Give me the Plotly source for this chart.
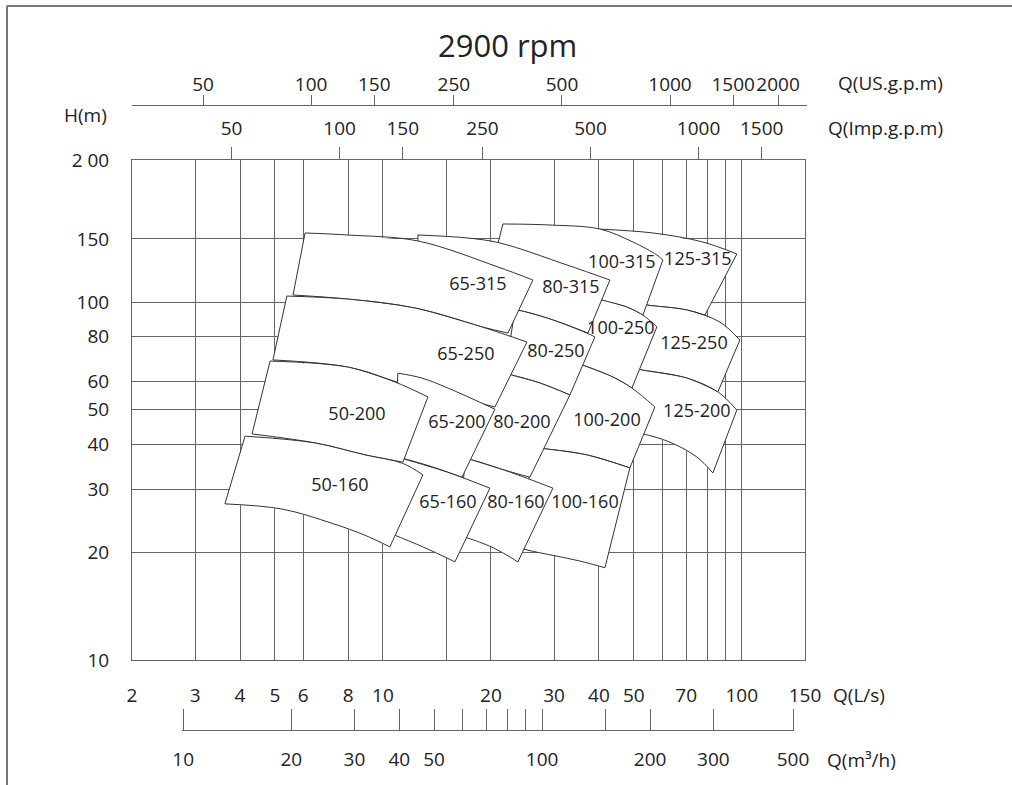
import math
import plotly.graph_objects as go

# ---------------- chart values ----------------
TITLE = "2900 rpm"

Q_MIN, Q_MAX = 2, 150            # flow axis, L/s
H_MIN, H_TOP = 10, 249.3         # head axis, m (top edge is labelled "2 00")
H_TOP_LABEL = "2 00"

LS_TICKS = [2, 3, 4, 5, 6, 8, 10, 20, 30, 40, 50, 70, 100, 150]
LS_EXTRA_GRID = [15, 60, 80, 90]
H_TICKS = [10, 20, 30, 40, 50, 60, 80, 100, 150]

M3H_TICKS = [10, 20, 30, 40, 50, 60, 70, 80, 90, 100, 150, 200, 300, 500]
M3H_LABELS = ["10", "20", "30", "40", "50", "", "", "", "", "100", "", "200", "300", "500"]
US_GPM_TICKS = [50, 100, 150, 250, 500, 1000, 1500, 2000]
IMP_GPM_TICKS = [50, 100, 150, 250, 500, 1000, 1500]

US_GPM_PER_LS = 15.85
IMP_GPM_PER_LS = 13.2
M3H_PER_LS = 3.6

# pump tiles: (Q L/s, H m) points, top edge and bottom edge from left to right
P125_315_TOP = [(39.72, 159.9), (56.54, 155.9), (77.90, 147.1), (96.87, 136.2)]
P125_315_BOT = [(44.31, 101.3), (54.40, 98.1), (70.31, 95.0), (78.90, 91.9)]
P125_315_LAB = (75.44, 130.2)

P125_250_TOP = [(52.02, 99.4), (54.40, 98.1), (70.31, 95.0), (86.88, 87.9), (98.76, 78.3)]
P125_250_BOT = [(48.77, 65.4), (52.68, 64.6), (70.31, 61.3), (85.78, 56.1)]
P125_250_LAB = (73.55, 75.9)

P125_200_TOP = [(50.36, 65.4), (52.68, 64.6), (70.31, 61.3), (85.78, 56.1), (96.87, 49.9)]
P125_200_BOT = [(47.24, 43.4), (53.02, 42.8), (63.04, 40.6), (74.97, 36.9), (83.06, 33.3)]
P125_200_LAB = (74.97, 49.0)

P100_315_TOP = [(21.60, 165.2), (29.20, 164.1), (40.24, 159.9), (49.73, 147.1), (58.00, 135.3), (60.27, 131.0)]
P100_315_BOT = [(20.52, 134.5), (40.76, 101.3), (47.84, 96.8), (53.02, 91.9)]
P100_315_LAB = (46.33, 128.5)

P100_250_TOP = [(38.97, 102.6), (40.76, 101.3), (47.84, 96.8), (53.02, 91.9), (58.00, 85.2)]
P100_250_BOT = [(34.28, 67.5), (35.85, 66.7), (43.75, 61.7), (49.41, 57.5)]
P100_250_LAB = (46.04, 83.6)

P100_200_TOP = [(34.28, 67.5), (35.85, 66.7), (43.75, 61.7), (49.41, 57.5), (57.27, 50.9)]
P100_200_BOT = [(24.87, 39.4), (28.28, 38.9), (37.02, 37.4), (48.77, 34.4)]
P100_200_LAB = (42.10, 46.5)

P100_160_TOP = [(26.52, 39.1), (28.28, 38.9), (37.02, 37.4), (48.77, 34.4)]
P100_160_BOT = [(23.33, 20.8), (25.20, 20.3), (29.77, 19.6), (35.39, 18.9), (41.56, 18.1)]
P100_160_LAB = (36.55, 27.3)

P80_315_TOP = [(12.52, 153.9), (17.15, 151.0), (21.19, 146.2), (32.57, 126.9), (42.91, 115.2)]
P80_315_BOT = [(12.52, 137.9), (21.88, 96.2), (24.40, 94.4), (29.77, 89.1), (37.26, 81.9)]
P80_315_LAB = (33.41, 109.4)

P80_250_TOP = [(23.33, 95.0), (24.40, 94.4), (29.77, 89.1), (37.02, 81.9), (38.97, 79.9)]
P80_250_BOT = [(21.88, 62.9), (22.88, 62.5), (27.38, 59.4), (33.20, 55.0)]
P80_250_LAB = (30.35, 72.5)

P80_200_TOP = [(22.02, 63.3), (22.88, 62.5), (27.38, 59.4), (33.20, 55.0)]
P80_200_BOT = [(16.19, 36.7), (17.71, 36.2), (21.88, 33.9), (25.68, 32.4)]
P80_200_LAB = (24.40, 45.9)

P80_160_TOP = [(16.93, 36.7), (17.71, 36.2), (22.59, 33.5), (29.77, 30.2)]
P80_160_BOT = [(16.39, 22.2), (17.26, 21.9), (20.26, 20.6), (23.78, 18.8)]
P80_160_LAB = (23.48, 27.3)

P65_315_TOP = [(6.07, 155.9), (7.99, 153.9), (12.52, 148.1), (20.92, 125.3), (26.18, 115.2)]
P65_315_BOT = [(5.62, 104.6), (7.99, 101.9), (12.29, 96.2), (18.88, 85.2), (22.31, 81.9)]
P65_315_LAB = (18.40, 110.9)

P65_250_TOP = [(5.40, 103.9), (7.99, 101.9), (12.29, 96.2), (18.88, 85.2), (25.20, 77.3)]
P65_250_BOT = [(4.94, 68.9), (7.99, 65.8), (10.94, 59.8), (15.18, 55.0), (20.52, 50.9)]
P65_250_LAB = (17.03, 71.1)

P65_200_TOP = [(11.01, 63.3), (12.85, 61.3), (15.18, 57.5), (20.52, 50.2)]
P65_200_BOT = [(10.80, 37.1), (13.53, 34.8), (16.61, 32.4)]
P65_200_LAB = (16.08, 45.9)

P65_160_TOP = [(11.16, 36.7), (15.09, 33.5), (19.87, 30.2)]
P65_160_BOT = [(10.46, 22.6), (12.93, 20.7), (15.88, 18.8)]
P65_160_LAB = (15.18, 27.4)

P50_200_TOP = [(4.85, 68.4), (7.99, 65.8), (10.80, 59.8), (13.35, 54.3)]
P50_200_BOT = [(4.32, 42.8), (6.47, 40.4), (8.92, 37.4), (11.37, 35.7)]
P50_200_LAB = (8.47, 48.3)

P50_160_TOP = [(4.13, 42.2), (6.47, 40.4), (8.92, 37.4), (11.30, 35.5), (12.93, 32.9)]
P50_160_BOT = [(3.63, 27.3), (5.24, 26.4), (7.21, 24.1), (8.92, 22.3), (10.46, 20.7)]
P50_160_LAB = (7.59, 30.6)

# drawing order (larger pumps underneath)
TILES = [
    ("125-315", P125_315_TOP, P125_315_BOT, P125_315_LAB),
    ("125-250", P125_250_TOP, P125_250_BOT, P125_250_LAB),
    ("125-200", P125_200_TOP, P125_200_BOT, P125_200_LAB),
    ("100-315", P100_315_TOP, P100_315_BOT, P100_315_LAB),
    ("100-250", P100_250_TOP, P100_250_BOT, P100_250_LAB),
    ("100-200", P100_200_TOP, P100_200_BOT, P100_200_LAB),
    ("100-160", P100_160_TOP, P100_160_BOT, P100_160_LAB),
    ("80-315", P80_315_TOP, P80_315_BOT, P80_315_LAB),
    ("80-250", P80_250_TOP, P80_250_BOT, P80_250_LAB),
    ("80-200", P80_200_TOP, P80_200_BOT, P80_200_LAB),
    ("80-160", P80_160_TOP, P80_160_BOT, P80_160_LAB),
    ("65-315", P65_315_TOP, P65_315_BOT, P65_315_LAB),
    ("65-250", P65_250_TOP, P65_250_BOT, P65_250_LAB),
    ("65-200", P65_200_TOP, P65_200_BOT, P65_200_LAB),
    ("65-160", P65_160_TOP, P65_160_BOT, P65_160_LAB),
    ("50-200", P50_200_TOP, P50_200_BOT, P50_200_LAB),
    ("50-160", P50_160_TOP, P50_160_BOT, P50_160_LAB),
]

# ---------------- layout geometry ----------------
W, HGT = 1012, 785
PLOT_L, PLOT_R, PLOT_T, PLOT_B = 132, 805, 160, 660
US_LINE_Y, US_LINE_R = 106, 807
M3H_LINE_Y = 730
END_PAD = 0.004   # decades added at the ends of the m3/h scale so its end ticks are kept

FONT = "Open Sans"
TXT = "#222222"
GRID = "#666666"
EDGE = "#333333"


def fx(p):
    return p / W


def fy(p):
    return 1 - p / HGT


ppd = (PLOT_R - PLOT_L) / (math.log10(Q_MAX) - math.log10(Q_MIN))


def ls_to_px(q):
    return PLOT_L + ppd * (math.log10(q) - math.log10(Q_MIN))


fig = go.Figure()

for name, top, bot, lab in TILES:
    tq = [p[0] for p in top]
    th = [p[1] for p in top]
    bq = [p[0] for p in bot]
    bh = [p[1] for p in bot]
    fig.add_trace(go.Scatter(
        x=tq + bq[::-1] + [tq[0]], y=th + bh[::-1] + [th[0]],
        mode="lines", fill="toself", fillcolor="white",
        line=dict(width=0, color="white"), hoverinfo="skip", showlegend=False))
    for qs, hs in ((tq, th), (bq, bh)):
        fig.add_trace(go.Scatter(
            x=qs, y=hs, mode="lines", line=dict(color=EDGE, width=1, shape="spline", smoothing=1),
            hoverinfo="skip", showlegend=False))
    fig.add_trace(go.Scatter(
        x=[tq[0], bq[0], None, tq[-1], bq[-1]], y=[th[0], bh[0], None, th[-1], bh[-1]],
        mode="lines", line=dict(color=EDGE, width=1), hoverinfo="skip", showlegend=False))

fig.add_trace(go.Scatter(
    x=[t[3][0] for t in TILES], y=[t[3][1] for t in TILES], text=[t[0] for t in TILES],
    mode="text", textposition="middle center",
    textfont=dict(family=FONT, size=18, color=TXT), hoverinfo="skip", showlegend=False))

# invisible anchors so that the secondary unit scales are rendered
fig.add_trace(go.Scatter(x=[IMP_GPM_TICKS[2]], y=[H_TICKS[2]], xaxis="x2", yaxis="y",
                         mode="markers", marker=dict(opacity=0, size=1), hoverinfo="skip", showlegend=False))
fig.add_trace(go.Scatter(x=[US_GPM_TICKS[2]], y=[1], xaxis="x3", yaxis="y3",
                         mode="markers", marker=dict(opacity=0, size=1), hoverinfo="skip", showlegend=False))
fig.add_trace(go.Scatter(x=[M3H_TICKS[2]], y=[1], xaxis="x4", yaxis="y4",
                         mode="markers", marker=dict(opacity=0, size=1), hoverinfo="skip", showlegend=False))

tickfont = dict(family=FONT, size=19, color=TXT)

m3h_lo = math.log10(M3H_TICKS[0]) - END_PAD
m3h_hi = math.log10(M3H_TICKS[-1]) + END_PAD
m3h_l = ls_to_px(10 ** m3h_lo / M3H_PER_LS)
m3h_r = ls_to_px(10 ** m3h_hi / M3H_PER_LS)
us_lo = math.log10(Q_MIN * US_GPM_PER_LS)
us_hi = us_lo + (US_LINE_R - PLOT_L) / ppd

fig.update_layout(
    width=W, height=HGT, autosize=False,
    margin=dict(l=0, r=0, t=0, b=0, pad=0),
    paper_bgcolor="white", plot_bgcolor="white",
    showlegend=False, hovermode=False,
    font=dict(family=FONT, size=19, color=TXT),
    xaxis=dict(
        type="log", range=[math.log10(Q_MIN), math.log10(Q_MAX)],
        domain=[fx(PLOT_L), fx(PLOT_R)], anchor="y",
        tickmode="array", tickvals=LS_TICKS, ticktext=[str(v) for v in LS_TICKS],
        ticks="", ticklabelstandoff=18, tickfont=tickfont, tickangle=0,
        showgrid=True, gridcolor=GRID, gridwidth=1,
        minor=dict(tickmode="array", tickvals=LS_EXTRA_GRID, showgrid=True, gridcolor=GRID, gridwidth=1, ticks=""),
        showline=True, linecolor=GRID, linewidth=1, mirror=True,
        zeroline=False, automargin=False, fixedrange=True),
    yaxis=dict(
        type="log", range=[math.log10(H_MIN), math.log10(H_TOP)],
        domain=[fy(PLOT_B), fy(PLOT_T)], anchor="x",
        tickmode="array", tickvals=H_TICKS + [H_TOP],
        ticktext=[str(v) for v in H_TICKS] + [H_TOP_LABEL],
        ticks="", ticklabelstandoff=18, tickfont=tickfont,
        showgrid=True, gridcolor=GRID, gridwidth=1,
        showline=True, linecolor=GRID, linewidth=1, mirror=True,
        zeroline=False, automargin=False, fixedrange=True),
    # Imp. g.p.m. axis sitting on top of the plot frame
    xaxis2=dict(
        type="log", overlaying="x", anchor="y", side="top",
        range=[math.log10(Q_MIN * IMP_GPM_PER_LS), math.log10(Q_MAX * IMP_GPM_PER_LS)],
        tickmode="array", tickvals=IMP_GPM_TICKS, ticktext=[str(v) for v in IMP_GPM_TICKS],
        ticks="outside", ticklen=12, tickcolor=GRID, tickwidth=1, tickangle=0,
        ticklabelstandoff=4, tickfont=tickfont,
        showgrid=False, showline=False, zeroline=False, automargin=False, fixedrange=True),
    # US g.p.m. axis
    xaxis3=dict(
        type="log", anchor="y3", side="top",
        domain=[fx(PLOT_L), fx(US_LINE_R)], range=[us_lo, us_hi],
        tickmode="array", tickvals=US_GPM_TICKS, ticktext=[str(v) for v in US_GPM_TICKS],
        ticks="outside", ticklen=10, tickcolor=GRID, tickwidth=1, tickangle=0,
        ticklabelstandoff=-4, tickfont=tickfont,
        showgrid=False, showline=True, linecolor=GRID, linewidth=1,
        zeroline=False, automargin=False, fixedrange=True),
    yaxis3=dict(domain=[fy(US_LINE_Y + 20), fy(US_LINE_Y)], anchor="x3", visible=False,
                range=[0, 2], fixedrange=True),
    # m3/h axis
    xaxis4=dict(
        type="log", anchor="y4", side="bottom",
        domain=[fx(m3h_l), fx(m3h_r)], range=[m3h_lo, m3h_hi],
        tickmode="array", tickvals=M3H_TICKS, ticktext=M3H_LABELS,
        ticks="inside", ticklen=21, tickcolor=GRID, tickwidth=1, tickangle=0,
        ticklabelstandoff=12, tickfont=tickfont,
        showgrid=False, showline=True, linecolor=GRID, linewidth=1,
        zeroline=False, automargin=False, fixedrange=True),
    yaxis4=dict(domain=[fy(M3H_LINE_Y), fy(M3H_LINE_Y - 25)], anchor="x4", visible=False,
                range=[0, 2], fixedrange=True),
)

ann = [
    dict(text=TITLE, x=fx(507), y=fy(45), font=dict(family=FONT, size=31, color=TXT), xanchor="center"),
    dict(text="H(m)", x=fx(85), y=fy(115), font=dict(family=FONT, size=19, color=TXT), xanchor="center"),
    dict(text="Q(US.g.p.m)", x=fx(836), y=fy(83), font=dict(family=FONT, size=19, color=TXT), xanchor="left"),
    dict(text="Q(Imp.g.p.m)", x=fx(826), y=fy(128), font=dict(family=FONT, size=19, color=TXT), xanchor="left"),
    dict(text="Q(L/s)", x=fx(831), y=fy(695), font=dict(family=FONT, size=19, color=TXT), xanchor="left"),
    dict(text="Q(m³/h)", x=fx(825), y=fy(760), font=dict(family=FONT, size=19, color=TXT), xanchor="left"),
]
for a in ann:
    a.update(xref="paper", yref="paper", yanchor="middle", showarrow=False)
fig.update_layout(annotations=ann)

# outer frame of the drawing (top and left rules)
fig.update_layout(shapes=[
    dict(type="line", xref="paper", yref="paper", x0=fx(7), x1=1, y0=fy(6), y1=fy(6),
         line=dict(color="#777777", width=2)),
    dict(type="line", xref="paper", yref="paper", x0=fx(7), x1=fx(7), y0=fy(6), y1=0,
         line=dict(color="#777777", width=2)),
])

fig.write_html("out.html", config={"staticPlot": True},
               post_script="document.body.style.margin='0';")
